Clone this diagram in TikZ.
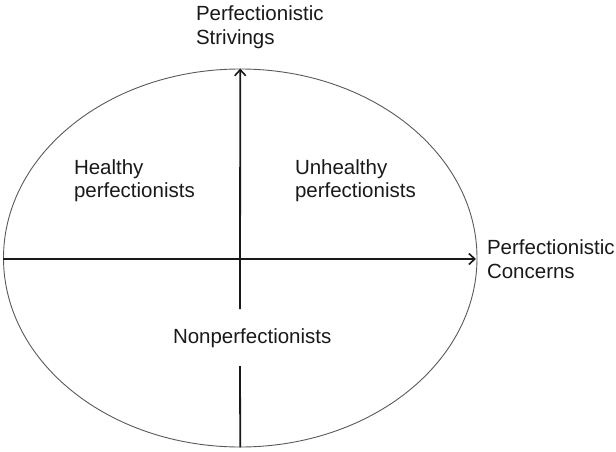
\documentclass[tikz,border=0pt]{standalone}
\usepackage{fontspec}
\setmainfont{Liberation Sans}
\usetikzlibrary{arrows.meta,shapes.geometric}
\begin{document}
\begin{tikzpicture}[x=1pt,y=-1pt,
  lbl/.style={inner sep=0pt,outer sep=0pt,anchor=base west,align=left,
    font=\fontsize{20.5pt}{23.5pt}\selectfont,text=black!90},
  axis/.style={line width=1.8pt,black!90},
  arr/.style={-{Straight Barb[length=6pt,width=11pt,line width=1.6pt]}}
]
\useasboundingbox (0,0) rectangle (616,452);
\node[draw=black!65,line width=0.9pt,ellipse,minimum width=473.5pt,minimum height=378pt,inner sep=0pt] (E) at (240.25,258) {};
\node[lbl] (ps) at (196,44.5) {Perfectionistic\\Strivings};
\node[lbl] (pc) at (487,278) {Perfectionistic\\Concerns};
\node[lbl] (hp) at (74,197.5) {Healthy\\perfectionists};
\node[lbl] (up) at (295,197.5) {Unhealthy\\perfectionists};
\node[lbl] (np) at (173,343) {Nonperfectionists};
\coordinate (hx) at (476,259);
\coordinate (vtop) at (240,309);
\coordinate (vbot) at (240,366);
\draw[axis,arr] (E.west |- hx) -- (hx);
\draw[axis,arr] (vtop) -- (E.north);
\draw[axis] (vbot) -- (E.south);
\end{tikzpicture}
\end{document}
